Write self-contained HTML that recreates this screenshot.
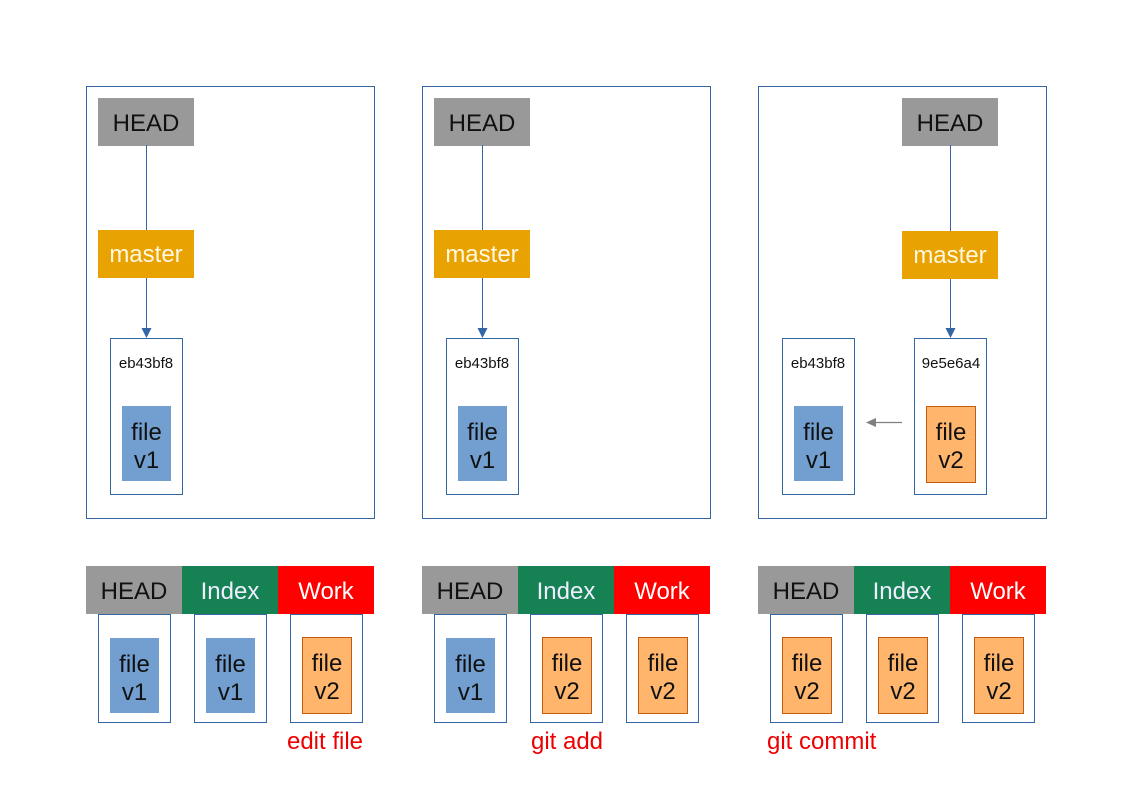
<!DOCTYPE html>
<html><head><meta charset="utf-8"><style>
html,body{margin:0;padding:0;background:#fff;}
svg{display:block;font-family:"Liberation Sans",sans-serif;}
</style></head><body>
<svg width="1123" height="794" viewBox="0 0 1123 794" xmlns="http://www.w3.org/2000/svg">
<defs>
<g id="fv1"><rect x="0" y="0" width="49" height="75" fill="#729fcf"/><text x="24.5" y="34" font-size="24" text-anchor="middle" fill="#111">file</text><text x="24.5" y="62" font-size="24" text-anchor="middle" fill="#111">v1</text></g>
<g id="fv2"><rect x="0.5" y="0.5" width="49" height="76" fill="#ffb66c" stroke="#c55a11" stroke-width="1"/><text x="25" y="34" font-size="24" text-anchor="middle" fill="#111">file</text><text x="25" y="62" font-size="24" text-anchor="middle" fill="#111">v2</text></g>
<g id="headbox"><rect x="0" y="0" width="96" height="48" fill="#999"/><text x="48" y="33" font-size="24" text-anchor="middle" fill="#111">HEAD</text></g>
<g id="masterbox"><rect x="0" y="0" width="96" height="48" fill="#e8a202"/><text x="48" y="32" font-size="24" text-anchor="middle" fill="#fff8e0">master</text></g>
<g id="bar"><rect x="0" y="0" width="96" height="48" fill="#999"/><text x="48" y="33" font-size="24" text-anchor="middle" fill="#111">HEAD</text>
<rect x="96" y="0" width="96" height="48" fill="#168253"/><text x="144" y="33" font-size="24" text-anchor="middle" fill="#eef">Index</text>
<rect x="192" y="0" width="96" height="48" fill="#ff0000"/><text x="240" y="33" font-size="24" text-anchor="middle" fill="#fff">Work</text></g>
<g id="sub"><rect x="12.5" y="48.5" width="72" height="108" fill="none" stroke="#3465a4" stroke-width="1"/><rect x="108.5" y="48.5" width="72" height="108" fill="none" stroke="#3465a4" stroke-width="1"/><rect x="204.5" y="48.5" width="72" height="108" fill="none" stroke="#3465a4" stroke-width="1"/></g>
<path id="ah" d="M-5,-10 L5,-10 L0,0 Z" fill="#3465a4"/>
</defs>

<!-- Panel 1 -->
<rect x="86.5" y="86.5" width="288" height="432" fill="none" stroke="#3465a4" stroke-width="1"/>
<use href="#headbox" x="98" y="98"/>
<line x1="146.5" y1="145" x2="146.5" y2="230" stroke="#3465a4" stroke-width="1"/>
<use href="#masterbox" x="98" y="230"/>
<line x1="146.5" y1="278" x2="146.5" y2="330" stroke="#3465a4" stroke-width="1"/>
<use href="#ah" x="146.5" y="338"/>
<rect x="110.5" y="338.5" width="72" height="156" fill="none" stroke="#3465a4" stroke-width="1"/>
<text x="146" y="368" font-size="15" text-anchor="middle" fill="#111">eb43bf8</text>
<use href="#fv1" x="122" y="406"/>

<!-- Panel 2 -->
<rect x="422.5" y="86.5" width="288" height="432" fill="none" stroke="#3465a4" stroke-width="1"/>
<use href="#headbox" x="434" y="98"/>
<line x1="482.5" y1="145" x2="482.5" y2="230" stroke="#3465a4" stroke-width="1"/>
<use href="#masterbox" x="434" y="230"/>
<line x1="482.5" y1="278" x2="482.5" y2="330" stroke="#3465a4" stroke-width="1"/>
<use href="#ah" x="482.5" y="338"/>
<rect x="446.5" y="338.5" width="72" height="156" fill="none" stroke="#3465a4" stroke-width="1"/>
<text x="482" y="368" font-size="15" text-anchor="middle" fill="#111">eb43bf8</text>
<use href="#fv1" x="458" y="406"/>

<!-- Panel 3 -->
<rect x="758.5" y="86.5" width="288" height="432" fill="none" stroke="#3465a4" stroke-width="1"/>
<use href="#headbox" x="902" y="98"/>
<line x1="950.5" y1="145" x2="950.5" y2="231" stroke="#3465a4" stroke-width="1"/>
<use href="#masterbox" x="902" y="231"/>
<line x1="950.5" y1="279" x2="950.5" y2="330" stroke="#3465a4" stroke-width="1"/>
<use href="#ah" x="950.5" y="338"/>
<rect x="782.5" y="338.5" width="72" height="156" fill="none" stroke="#3465a4" stroke-width="1"/>
<text x="818" y="368" font-size="15" text-anchor="middle" fill="#111">eb43bf8</text>
<use href="#fv1" x="794" y="406"/>
<rect x="914.5" y="338.5" width="72" height="156" fill="none" stroke="#3465a4" stroke-width="1"/>
<text x="951" y="368" font-size="15" text-anchor="middle" fill="#111">9e5e6a4</text>
<use href="#fv2" x="926" y="406"/>
<line x1="902" y1="422.5" x2="874" y2="422.5" stroke="#808080" stroke-width="1.2"/>
<path d="M866,422.5 L876,418 L876,427 Z" fill="#808080"/>

<!-- Bottom 1 -->
<use href="#bar" x="86" y="566"/>
<use href="#sub" x="86" y="566"/>
<use href="#fv1" x="110" y="638"/>
<use href="#fv1" x="206" y="638"/>
<use href="#fv2" x="302" y="637"/>
<text x="325" y="749" font-size="24" text-anchor="middle" fill="#e00">edit file</text>

<!-- Bottom 2 -->
<use href="#bar" x="422" y="566"/>
<use href="#sub" x="422" y="566"/>
<use href="#fv1" x="446" y="638"/>
<use href="#fv2" x="542" y="637"/>
<use href="#fv2" x="638" y="637"/>
<text x="567" y="749" font-size="24" text-anchor="middle" fill="#e00">git add</text>

<!-- Bottom 3 -->
<use href="#bar" x="758" y="566"/>
<use href="#sub" x="758" y="566"/>
<use href="#fv2" x="782" y="637"/>
<use href="#fv2" x="878" y="637"/>
<use href="#fv2" x="974" y="637"/>
<text x="767" y="749" font-size="24" fill="#e00">git commit</text>
</svg>
</body></html>
